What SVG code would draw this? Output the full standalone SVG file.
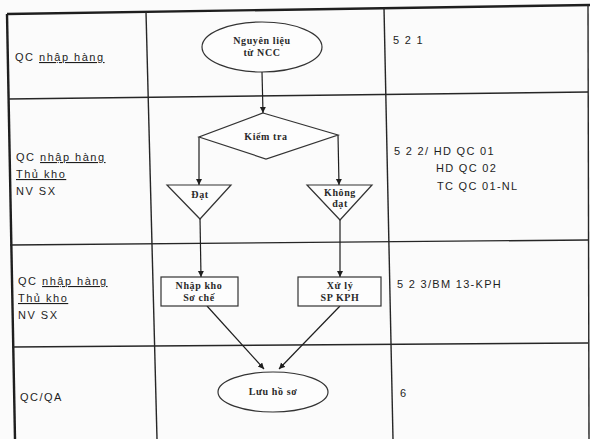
<svg xmlns="http://www.w3.org/2000/svg" width="590" height="439" viewBox="0 0 590 439">
<defs>
<marker id="arr" markerUnits="userSpaceOnUse" markerWidth="7" markerHeight="7" refX="6" refY="3" orient="auto">
<path d="M0,0 L6,3 L0,6 z" fill="#1e1e1e"/>
</marker>
<style>
.grid{stroke:#262626;stroke-width:1.4;fill:none}
.outer{stroke:#1e1e1e;stroke-width:2.4;fill:none}
.shape{stroke:#333;stroke-width:1.2;fill:#fdfdfd}
.conn{stroke:#1e1e1e;stroke-width:1.2;fill:none;marker-end:url(#arr)}
.lane{font-family:"Liberation Sans",Arial,sans-serif;font-size:11px;letter-spacing:1.5px;fill:#1e1e1e}
.ref{font-family:"Liberation Sans",Arial,sans-serif;font-size:11px;letter-spacing:1.3px;fill:#1e1e1e}
.fc{font-family:"Liberation Serif","Times New Roman",serif;font-size:10px;letter-spacing:0.6px;font-weight:bold;fill:#2a2a2a;text-anchor:middle}
.u{text-decoration:underline}
</style>
</defs>
<rect width="590" height="439" fill="#fbfbfb"/>
<g id="table">
<line class="outer" x1="7" y1="14" x2="590" y2="5"/>
<line class="outer" x1="7" y1="14" x2="15" y2="439"/>
<line class="grid" x1="588" y1="5" x2="589" y2="439"/>
<line class="grid" x1="146" y1="12" x2="157" y2="439"/>
<line class="grid" x1="384" y1="8" x2="393" y2="439"/>
<line class="grid" x1="8" y1="99" x2="588" y2="92"/>
<line class="grid" x1="10" y1="245" x2="588" y2="240"/>
<line class="grid" x1="12" y1="347" x2="588" y2="343"/>
</g>
<g id="lanes">
<text class="lane" x="15" y="61">QC <tspan class="u">nhập hàng</tspan></text>
<text class="lane" x="16" y="161">QC <tspan class="u">nhập hàng</tspan></text>
<text class="lane" x="16" y="178"><tspan class="u">Thủ kho</tspan></text>
<text class="lane" x="16" y="195">NV SX</text>
<text class="lane" x="18" y="285">QC <tspan class="u">nhập hàng</tspan></text>
<text class="lane" x="18" y="302"><tspan class="u">Thủ kho</tspan></text>
<text class="lane" x="18" y="319">NV SX</text>
<text class="lane" x="20" y="401">QC/QA</text>
</g>
<g id="refs">
<text class="ref" x="393" y="44">5 2 1</text>
<text class="ref" x="394" y="155">5 2 2/ HD QC 01</text>
<text class="ref" x="436" y="172">HD QC 02</text>
<text class="ref" x="437" y="190">TC QC 01-NL</text>
<text class="ref" x="397" y="288">5 2 3/BM 13-KPH</text>
<text class="ref" x="400" y="397">6</text>
</g>
<g id="connectors">
<line class="conn" x1="262" y1="72" x2="263" y2="113"/>
<line class="conn" x1="199" y1="137" x2="199" y2="185"/>
<line class="conn" x1="338" y1="135" x2="339" y2="185"/>
<line class="conn" x1="200" y1="218" x2="201" y2="277"/>
<line class="conn" x1="340" y1="220" x2="340" y2="277"/>
<line class="conn" x1="207" y1="306" x2="264" y2="369"/>
<line class="conn" x1="340" y1="306" x2="279" y2="369"/>
</g>
<g id="n-source">
<ellipse class="shape" cx="262" cy="47" rx="60" ry="25"/>
<text class="fc" x="262" y="44">Nguyên liệu</text>
<text class="fc" x="262" y="56">từ NCC</text>
</g>
<g id="n-check">
<polygon class="shape" points="263,113 338,135 266,159 199,137"/>
<text class="fc" x="266" y="140">Kiểm tra</text>
</g>
<g id="n-pass">
<polygon class="shape" points="167,185 231,185 200,219"/>
<text class="fc" x="200" y="198">Đạt</text>
</g>
<g id="n-fail">
<polygon class="shape" points="307,185 372,185 340,220"/>
<text class="fc" x="340" y="196">Không</text>
<text class="fc" x="340" y="207">đạt</text>
</g>
<g id="n-store">
<rect class="shape" x="161" y="277" width="77" height="29"/>
<text class="fc" x="199" y="289">Nhập kho</text>
<text class="fc" x="199" y="301">Sơ chế</text>
</g>
<g id="n-handle">
<rect class="shape" x="298" y="277" width="83" height="29"/>
<text class="fc" x="340" y="289">Xử lý</text>
<text class="fc" x="340" y="301">SP KPH</text>
</g>
<g id="n-archive">
<ellipse class="shape" cx="273" cy="392" rx="55" ry="20"/>
<text class="fc" x="273" y="395">Lưu hồ sơ</text>
</g>
</svg>
